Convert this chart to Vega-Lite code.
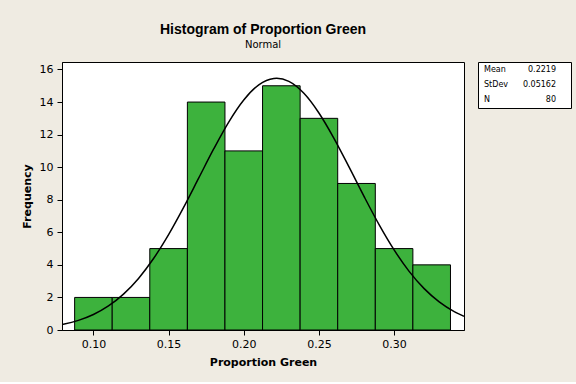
{
  "$schema": "https://vega.github.io/schema/vega-lite/v6.json",
  "background": "#EFEBE2",
  "padding": {"left": 20, "top": 22, "right": 5, "bottom": 14},
  "spacing": 14,
  "bounds": "flush",
  "config": {
    "font": "DejaVu Sans",
    "view": {"stroke": "black", "strokeWidth": 1, "fill": "white"},
    "axis": {
      "grid": false,
      "labelOverlap": false,
      "domainColor": "black",
      "tickColor": "black",
      "tickSize": 5,
      "labelFontSize": 11,
      "labelColor": "black",
      "titleFontSize": 11,
      "titleFontWeight": "bold",
      "titleColor": "black",
      "titlePadding": 7
    }
  },
  "datasets": {
    "bins": [
      {"bin_start": 0.0875, "bin_end": 0.1125, "count": 2},
      {"bin_start": 0.1125, "bin_end": 0.1375, "count": 2},
      {"bin_start": 0.1375, "bin_end": 0.1625, "count": 5},
      {"bin_start": 0.1625, "bin_end": 0.1875, "count": 14},
      {"bin_start": 0.1875, "bin_end": 0.2125, "count": 11},
      {"bin_start": 0.2125, "bin_end": 0.2375, "count": 15},
      {"bin_start": 0.2375, "bin_end": 0.2625, "count": 13},
      {"bin_start": 0.2625, "bin_end": 0.2875, "count": 9},
      {"bin_start": 0.2875, "bin_end": 0.3125, "count": 5},
      {"bin_start": 0.3125, "bin_end": 0.3375, "count": 4}
    ],
    "curve": [
      {"x": 0.079, "fit": 0.335},
      {"x": 0.08, "fit": 0.354},
      {"x": 0.09, "fit": 0.591},
      {"x": 0.10, "fit": 0.951},
      {"x": 0.11, "fit": 1.475},
      {"x": 0.12, "fit": 2.203},
      {"x": 0.13, "fit": 3.169},
      {"x": 0.14, "fit": 4.390},
      {"x": 0.15, "fit": 5.860},
      {"x": 0.16, "fit": 7.532},
      {"x": 0.17, "fit": 9.324},
      {"x": 0.18, "fit": 11.118},
      {"x": 0.19, "fit": 12.771},
      {"x": 0.20, "fit": 14.127},
      {"x": 0.21, "fit": 15.052},
      {"x": 0.22, "fit": 15.446},
      {"x": 0.2219, "fit": 15.457},
      {"x": 0.23, "fit": 15.268},
      {"x": 0.24, "fit": 14.536},
      {"x": 0.25, "fit": 13.328},
      {"x": 0.26, "fit": 11.771},
      {"x": 0.27, "fit": 10.014},
      {"x": 0.28, "fit": 8.204},
      {"x": 0.29, "fit": 6.474},
      {"x": 0.30, "fit": 4.921},
      {"x": 0.31, "fit": 3.603},
      {"x": 0.32, "fit": 2.540},
      {"x": 0.33, "fit": 1.725},
      {"x": 0.34, "fit": 1.128},
      {"x": 0.3465, "fit": 0.839}
    ],
    "stats": [
      {"stat": "Mean", "value": "0.2219"},
      {"stat": "StDev", "value": "0.05162"},
      {"stat": "N", "value": "80"}
    ]
  },
  "hconcat": [
    {
      "width": 402,
      "height": 268,
      "title": {
        "text": "Histogram of Proportion Green",
        "subtitle": "Normal",
        "font": "Liberation Sans",
        "fontSize": 14,
        "fontWeight": "bold",
        "color": "black",
        "subtitleFont": "DejaVu Sans",
        "subtitleFontSize": 10,
        "subtitleColor": "black",
        "subtitlePadding": 3,
        "anchor": "middle",
        "offset": 12
      },
      "layer": [
        {
          "data": {"name": "bins"},
          "mark": {"type": "bar", "fill": "#3DB23D", "stroke": "black", "strokeWidth": 1},
          "encoding": {
            "x": {
              "field": "bin_start",
              "type": "quantitative",
              "scale": {"domain": [0.0791, 0.3465], "nice": false, "zero": false},
              "axis": {
                "values": [0.10, 0.15, 0.20, 0.25, 0.30],
                "format": ".2f",
                "title": "Proportion Green",
                "labelPadding": 3
              }
            },
            "x2": {"field": "bin_end"},
            "y": {
              "field": "count",
              "type": "quantitative",
              "scale": {"domain": [0, 16.46], "nice": false},
              "axis": {
                "values": [0, 2, 4, 6, 8, 10, 12, 14, 16],
                "title": "Frequency",
                "labelPadding": 4
              }
            },
            "y2": {"datum": 0}
          }
        },
        {
          "data": {"name": "curve"},
          "mark": {"type": "line", "color": "black", "strokeWidth": 1.5, "interpolate": "monotone", "clip": true},
          "encoding": {
            "x": {
              "field": "x",
              "type": "quantitative",
              "axis": {
                "values": [0.10, 0.15, 0.20, 0.25, 0.30],
                "format": ".2f",
                "title": "Proportion Green",
                "labelPadding": 3
              }
            },
            "y": {
              "field": "fit",
              "type": "quantitative",
              "axis": {
                "values": [0, 2, 4, 6, 8, 10, 12, 14, 16],
                "title": "Frequency",
                "labelPadding": 4
              }
            }
          }
        }
      ]
    },
    {
      "width": 93,
      "height": 46,
      "data": {"name": "stats"},
      "layer": [
        {
          "mark": {"type": "text", "align": "left", "baseline": "middle", "fontSize": 8, "color": "black"},
          "encoding": {
            "x": {"datum": 6, "type": "quantitative", "scale": {"domain": [0, 93], "nice": false, "zero": false}, "axis": null},
            "y": {"field": "stat", "type": "nominal", "sort": ["Mean", "StDev", "N"], "scale": {"padding": 0.5}, "axis": null},
            "text": {"field": "stat"}
          }
        },
        {
          "mark": {"type": "text", "align": "right", "baseline": "middle", "fontSize": 8, "color": "black"},
          "encoding": {
            "x": {"datum": 78, "type": "quantitative"},
            "y": {"field": "stat", "type": "nominal", "sort": ["Mean", "StDev", "N"]},
            "text": {"field": "value"}
          }
        }
      ]
    }
  ]
}
